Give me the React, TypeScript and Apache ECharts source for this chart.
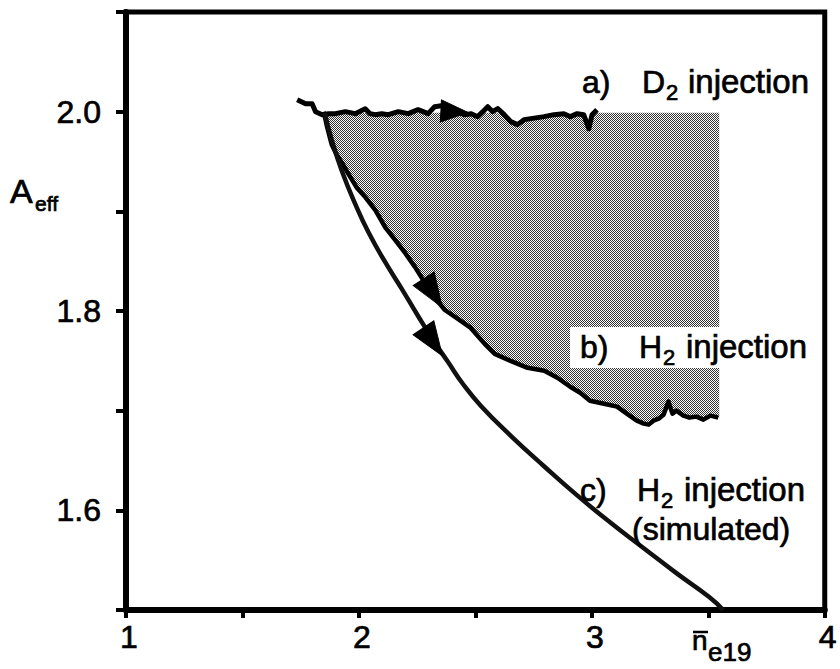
import React, { useEffect, useRef } from "react";
import * as echarts from "echarts";

// a) D2 injection
const aX = [1.735,1.771,1.799,1.814,1.842,1.870,1.899,1.942,1.984,2.027,2.048,2.070,2.098,2.126,2.169,2.212,2.254,2.297,2.325,2.354,2.40,2.453,2.482,2.510,2.532,2.553,2.574,2.596,2.624,2.652,2.681,2.709,2.738,2.795,2.837,2.880,2.908,2.937,2.965,2.987,3.001,3.022];
const aY = [2.012,2.008,2.008,2.000,1.997,1.998,1.998,2.000,1.998,2.003,1.998,1.997,1.998,1.997,2.000,1.998,2.002,1.998,2.005,2.006,2.002,1.997,1.998,1.995,2.000,2.005,2.000,2.003,1.997,1.990,1.987,1.992,1.993,1.995,1.997,1.998,1.995,1.998,1.997,1.983,1.997,2.002];

// b) H2 injection
const bX = [1.849,1.862,1.883,1.904,1.926,1.956,1.990,2.028,2.071,2.113,2.156,2.199,2.241,2.284,2.327,2.369,2.425,2.480,2.540,2.583,2.651,2.724,2.796,2.852,2.907,2.950,2.992,3.052,3.108,3.150,3.193,3.223,3.244,3.265,3.287,3.308,3.329,3.346,3.363,3.393,3.419,3.449,3.479,3.509,3.543];
const bY = [2.000,1.986,1.967,1.957,1.949,1.937,1.924,1.914,1.901,1.884,1.871,1.858,1.844,1.828,1.813,1.801,1.792,1.783,1.767,1.757,1.750,1.743,1.740,1.733,1.724,1.718,1.710,1.707,1.704,1.697,1.690,1.687,1.686,1.690,1.692,1.696,1.709,1.697,1.700,1.695,1.693,1.694,1.691,1.695,1.693];

// c) H2 injection (simulated)
const cX = [1.853,1.883,1.926,1.985,2.041,2.113,2.182,2.254,2.318,2.382,2.446,2.523,2.651,2.796,2.937,3.078,3.223,3.363,3.504,3.564];
const cY = [1.999,1.972,1.941,1.907,1.879,1.849,1.823,1.795,1.771,1.749,1.727,1.705,1.675,1.644,1.615,1.588,1.562,1.537,1.513,1.500];

// shaded region extent
const shadeRight = 3.547;
const shadeTop = 1.999;

// arrows
const arrowX = [2.410, 2.318, 2.318];
const arrowY = [2.000, 1.818, 1.769];
const arrowRot = [-3, -57, -56];
const arrowLen = [27, 34, 34];
const arrowWid = [22, 25, 25];

const xLabels = [1, 2, 3, 4];
const yLabels = [1.6, 1.8, 2.0];

const FONT = '"Liberation Sans", Arial, Helvetica, sans-serif';

function txt(x: number, baseline: number, text: string, size: number) {
  return {
    type: "text",
    z: 20,
    x,
    y: baseline - 0.35 * size,
    style: {
      text,
      font: `${size}px ${FONT}`,
      fill: "#000",
      stroke: "#000",
      lineWidth: 0.7,
      textAlign: "left",
      textVerticalAlign: "middle",
      align: "left",
      verticalAlign: "middle",
    },
  };
}

function makePattern() {
  const c = document.createElement("canvas");
  c.width = 2;
  c.height = 2;
  const ctx = c.getContext("2d")!;
  ctx.fillStyle = "#ffffff";
  ctx.fillRect(0, 0, 2, 2);
  ctx.fillStyle = "#333333";
  ctx.fillRect(0, 0, 1, 1);
  ctx.fillRect(1, 1, 1, 1);
  return { image: c, repeat: "repeat" };
}

export default function App() {
  const ref = useRef<HTMLDivElement>(null);
  useEffect(() => {
    if (!ref.current) return;
    const chart = echarts.init(ref.current, undefined, { renderer: "svg" });
    const pair = (xs: number[], ys: number[]) => xs.map((x, i) => [x, ys[i]]);
    let fill: any = "#a0a0a0";
    try {
      fill = makePattern();
    } catch (e) {
      fill = "#a0a0a0";
    }

    const labelCommon = {
      show: true,
      color: "#000",
      fontSize: 32,
      fontFamily: FONT,
      textBorderColor: "#000",
      textBorderWidth: 0.7,
    };

    const option: any = {
      animation: false,
      backgroundColor: "#fff",
      grid: {
        left: 126,
        right: 11,
        top: 12,
        bottom: 59,
        show: true,
        borderColor: "#000",
        borderWidth: 5,
        backgroundColor: "transparent",
      },
      xAxis: {
        type: "value",
        min: 1,
        max: 4,
        interval: 0.5,
        splitLine: { show: false },
        axisLine: { show: true, onZero: false, lineStyle: { color: "#000", width: 6 } },
        axisTick: { show: true, inside: false, length: 8, lineStyle: { color: "#000", width: 4 } },
        axisLabel: {
          ...labelCommon,
          margin: 11,
          showMinLabel: true,
          showMaxLabel: true,
          padding: [0, 0, 0, 6],
          formatter: (v: number) => (xLabels.some((l) => Math.abs(l - v) < 1e-6) ? String(Math.round(v)) : ""),
        },
      },
      yAxis: {
        type: "value",
        min: 1.5,
        max: 2.1,
        interval: 0.1,
        splitLine: { show: false },
        axisLine: { show: true, onZero: false, lineStyle: { color: "#000", width: 6 } },
        axisTick: { show: true, inside: false, length: 10, lineStyle: { color: "#000", width: 4 } },
        axisLabel: {
          ...labelCommon,
          margin: 25,
          formatter: (v: number) => (yLabels.some((l) => Math.abs(l - v) < 1e-6) ? v.toFixed(1) : ""),
        },
      },
      series: [
        {
          type: "custom",
          coordinateSystem: "cartesian2d",
          z: 1,
          silent: true,
          data: [[shadeRight, shadeTop]],
          renderItem: (params: any, api: any) => {
            const pts: number[][] = [];
            for (let i = 0; i < aX.length; i++) {
              if (aX[i] >= 1.84) pts.push(api.coord([aX[i], Math.min(aY[i], shadeTop)]));
            }
            pts.push(api.coord([shadeRight, shadeTop]));
            pts.push(api.coord([shadeRight, bY[bY.length - 1]]));
            for (let i = bX.length - 1; i >= 0; i--) pts.push(api.coord([bX[i], bY[i]]));
            return { type: "polygon", shape: { points: pts }, style: { fill, stroke: null } };
          },
        },
        {
          name: "a) D2 injection",
          type: "line",
          z: 5,
          data: pair(aX, aY),
          showSymbol: false,
          symbol: "none",
          lineStyle: { color: "#000", width: 5, join: "round" },
        },
        {
          name: "b) H2 injection",
          type: "line",
          z: 5,
          data: pair(bX, bY),
          showSymbol: false,
          symbol: "none",
          lineStyle: { color: "#000", width: 4.5, join: "round" },
        },
        {
          name: "c) H2 injection (simulated)",
          type: "line",
          z: 5,
          smooth: 0.5,
          data: pair(cX, cY),
          showSymbol: false,
          symbol: "none",
          lineStyle: { color: "#111", width: 4.5 },
        },
        {
          type: "scatter",
          z: 6,
          silent: true,
          symbol: "path://M0,0L30,11L0,22Z",
          itemStyle: { color: "#000", opacity: 1, borderColor: "#000", borderWidth: 1 },
          data: arrowX.map((x, i) => ({
            value: [x, arrowY[i]],
            symbolRotate: arrowRot[i],
            symbolSize: [arrowLen[i], arrowWid[i]],
          })),
        },
      ],
      graphic: [
        { type: "rect", z: 15, shape: { x: 570, y: 327, width: 156, height: 41 }, style: { fill: "#fff" } },
        // a) label
        txt(582, 93, "a)", 32),
        txt(642, 93, "D", 32),
        txt(666, 100, "2", 22),
        txt(688, 93, "injection", 33),
        // b) label
        txt(580, 358, "b)", 32),
        txt(639, 358, "H", 32),
        txt(663, 365, "2", 22),
        txt(686, 358, "injection", 33),
        // c) label
        txt(580, 501, "c)", 32),
        txt(637, 501, "H", 32),
        txt(661, 508, "2", 22),
        txt(684, 501, "injection", 33),
        txt(632, 540, "(simulated)", 32),
        // y axis title
        txt(10, 203, "A", 34),
        txt(35, 211, "eff", 21),
        // x axis title
        { type: "line", z: 20, shape: { x1: 693, y1: 632, x2: 708, y2: 632 }, style: { stroke: "#000", lineWidth: 2.5 } },
        txt(692, 650, "n", 28),
        txt(708, 661, "e19", 26),
      ],
    };
    chart.setOption(option);
    return () => chart.dispose();
  }, []);
  return (
    <div
      ref={ref}
      style={{ position: "fixed", left: 0, top: 0, width: 840, height: 669, background: "#fff" }}
    />
  );
}
